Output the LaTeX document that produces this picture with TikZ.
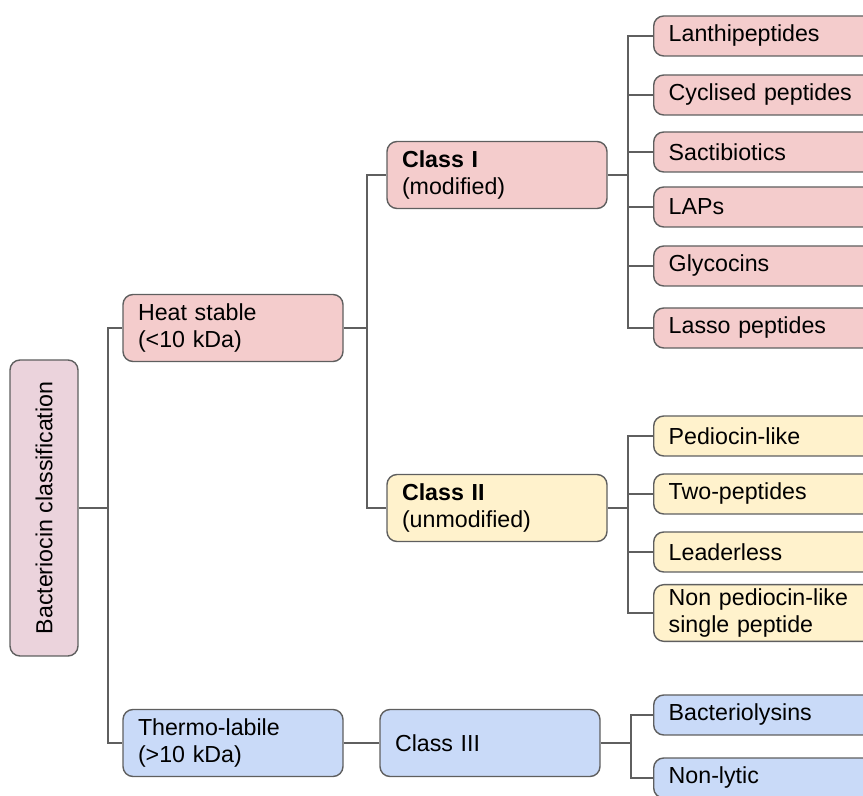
\documentclass[tikz,border=0pt]{standalone}
\usepackage{fontspec}
\setmainfont{Liberation Sans}
\usepackage{tikz}
\definecolor{boxline}{HTML}{5F5F5F}
\definecolor{redfill}{HTML}{F4CCCC}
\definecolor{yellowfill}{HTML}{FFF2CC}
\definecolor{bluefill}{HTML}{C9DAF8}
\definecolor{rootfill}{HTML}{EBD3DC}
\tikzset{
  box/.style={draw=boxline,line width=0.7pt,rounded corners=5pt,align=left,
    font=\fontsize{11.6}{13.5}\selectfont,inner xsep=7.5pt,inner ysep=2pt},
  midbox/.style={box,text width=95pt,minimum height=33.5pt},
  leafbox/.style={box,anchor=west,text width=116pt,minimum height=20pt},
  link/.style={draw=boxline,line width=0.6pt}
}

\begin{document}
\begin{tikzpicture}[x=0.5pt,y=-0.5pt]
\useasboundingbox (0,0) rectangle (863,796);
% root and first level
\node[box,fill=rootfill,rotate=90,minimum width=148pt,minimum height=34pt,align=center] (root) at (44,508) {Bacteriocin classification};
\node[midbox,fill=redfill] (hs) at (233,328) {Heat stable\\(<10 kDa)};
\node[midbox,fill=bluefill] (tl) at (233,743) {Thermo-labile\\(>10 kDa)};
% classes
\node[midbox,fill=redfill] (c1) at (497,175) {\textbf{Class I}\\(modified)};
\node[midbox,fill=yellowfill] (c2) at (497,508) {\textbf{Class II}\\(unmodified)};
\node[midbox,fill=bluefill] (c3) at (490,743) {Class III};
% leaves
\node[leafbox,fill=redfill] (lan) at (653,36) {Lanthipeptides};
\node[leafbox,fill=redfill] (cyc) at (653,95) {Cyclised peptides};
\node[leafbox,fill=redfill] (sac) at (653,152) {Sactibiotics};
\node[leafbox,fill=redfill] (lap) at (653,207) {LAPs};
\node[leafbox,fill=redfill] (gly) at (653,266) {Glycocins};
\node[leafbox,fill=redfill] (las) at (653,328) {Lasso peptides};
\node[leafbox,fill=yellowfill] (ped) at (653,436) {Pediocin-like};
\node[leafbox,fill=yellowfill] (two) at (653,494) {Two-peptides};
\node[leafbox,fill=yellowfill] (lea) at (653,552) {Leaderless};
\node[leafbox,fill=yellowfill] (non) at (653,613) {Non pediocin-like\\single peptide};
\node[leafbox,fill=bluefill] (bac) at (653,715) {Bacteriolysins};
\node[leafbox,fill=bluefill] (nly) at (653,778) {Non-lytic};
% connectors
\coordinate (j0) at (108,508);
\coordinate (j1) at (367,328);
\coordinate (j2) at (628,175);
\coordinate (j3) at (628,508);
\coordinate (j4) at (631,743);
\draw[link] (root.south) -- (j0) |- (hs.west);
\draw[link] (j0) |- (tl.west);
\draw[link] (hs.east) -- (j1) |- (c1.west);
\draw[link] (j1) |- (c2.west);
\draw[link] (tl.east) -- (c3.west);
\draw[link] (c1.east) -- (j2);
\foreach \n in {lan,cyc,sac,lap,gly,las}
  \draw[link] (j2) |- (\n.west);
\draw[link] (c2.east) -- (j3);
\foreach \n in {ped,two,lea,non}
  \draw[link] (j3) |- (\n.west);
\draw[link] (c3.east) -- (j4);
\foreach \n in {bac,nly}
  \draw[link] (j4) |- (\n.west);
\end{tikzpicture}
\end{document}
